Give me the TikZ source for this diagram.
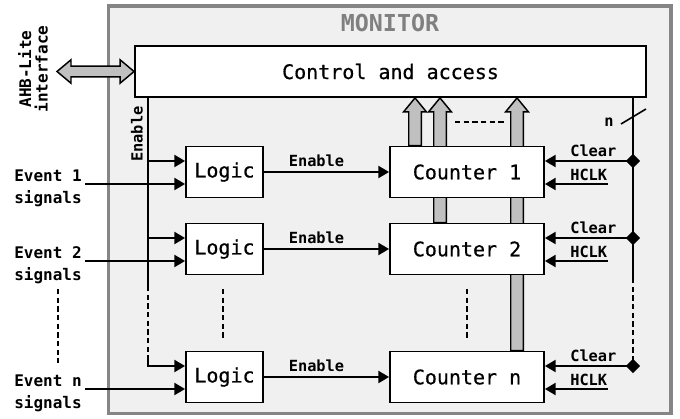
\documentclass[tikz,border=0pt]{standalone}
\usepackage{fontspec}
\newfontfamily\monof{DejaVu Sans Mono}
\newfontfamily\monoheavy[FakeBold=0.6]{DejaVu Sans Mono}
\usetikzlibrary{arrows.meta,shapes.geometric,calc}
\pgfdeclarelayer{back}
\pgfdeclarelayer{mid}
\pgfsetlayers{back,mid,main}
\definecolor{framegray}{HTML}{858585}
\definecolor{panelgray}{HTML}{F0F0F0}
\definecolor{arrowgray}{HTML}{C0C0C0}
\definecolor{titlegray}{HTML}{808080}
\begin{document}
\begin{tikzpicture}[x=0.75pt,y=-0.75pt,
  box/.style={draw, line width=1.4pt, fill=white, inner sep=0pt, font=\monoheavy\fontsize{15}{18}\selectfont},
  logicbox/.style={box, minimum width=57.75pt, minimum height=38.25pt},
  counterbox/.style={box, minimum width=115.5pt, minimum height=38.25pt},
  lbl/.style={inner sep=0pt, font=\monof\bfseries\fontsize{11.5}{16.5}\selectfont},
  evlbl/.style={inner sep=0pt, align=left, font=\monof\bfseries\fontsize{12}{16.5}\selectfont},
  wire/.style={line width=1.5pt},
  arr/.style={wire, -{Triangle[length=8pt,width=9pt]}},
  dashwire/.style={line width=1.5pt, dash pattern=on 4pt off 2.5pt},
  junction/.style={diamond, fill=black, inner sep=0pt, minimum size=11pt},
  bigarrow/.style={draw=black, line width=1.1pt, fill=arrowgray, line join=miter}
]
\useasboundingbox (0,0) rectangle (680,418);

\begin{pgfonlayer}{back}
\node[draw=framegray, fill=panelgray, line width=2.6pt, minimum width=421.9pt, minimum height=305.6pt, inner sep=0pt] (monitor) at (389.75,209.75) {};
\end{pgfonlayer}

\node[font=\monof\bfseries\fontsize{17.5}{20}\selectfont, text=titlegray, inner sep=0pt] (title) at (390,23) {MONITOR};

\node[box, minimum width=383.25pt, minimum height=38.25pt] (ctrl) at (390.5,71.5) {Control and access};

\foreach \k/\y in {1/172,2/249,n/377}{
  \node[logicbox] (l\k) at (224.5,\y) {Logic};
  \node[counterbox] (c\k) at (467,\y) {Counter \k};
  \node[evlbl, anchor=west] (e\k) at (14,\y+16) {Event \k\\signals};
  \coordinate (es\k) at (85,\y+12);
  \draw[arr] (es\k) -- (es\k -| l\k.west);
  \draw[arr] (l\k) -- node[lbl, pos=0.42, above=3pt]{Enable} (c\k);
  \node[junction] (d\k) at (633,\y-11) {};
  \draw[arr] (d\k.center) -- (d\k -| c\k.east);
  \node[lbl, anchor=base west] (cl\k) at (570,\y-16) {Clear};
  \coordinate (hs\k) at (608,\y+12);
  \draw[arr] (hs\k) -- (hs\k -| c\k.east);
  \node[lbl, anchor=base west] (hc\k) at (570,\y+8) {HCLK};
}

% vertical data arrows to control
\begin{pgfonlayer}{mid}
\foreach \c/\dx in {c1/-52,c2/-27,cn/50}{
  \filldraw[bigarrow] let \p1=($(\c.north)+(\dx,0)$), \p2=(ctrl.south) in
    (\x1-4.7pt,\y1) -- (\x1-4.7pt,\y2-10.5pt) -- (\x1-8.6pt,\y2-10.5pt) -- (\x1,\y2)
    -- (\x1+8.6pt,\y2-10.5pt) -- (\x1+4.7pt,\y2-10.5pt) -- (\x1+4.7pt,\y1) -- cycle;
}
\end{pgfonlayer}

% AHB-Lite double arrow
\coordinate (ahbtip) at (57,71.5);
\filldraw[bigarrow] let \p1=(ahbtip), \p2=(ctrl.west) in
  (\x1,\y1) -- (\x1+10.5pt,\y1+8.8pt) -- (\x1+10.5pt,\y1+4pt) -- (\x2-10.5pt,\y1+4pt)
  -- (\x2-10.5pt,\y1+8.8pt) -- (\x2,\y1) -- (\x2-10.5pt,\y1-8.8pt) -- (\x2-10.5pt,\y1-4pt)
  -- (\x1+10.5pt,\y1-4pt) -- (\x1+10.5pt,\y1-8.8pt) -- cycle;
\node[evlbl, align=center, rotate=90, font=\monof\bfseries\fontsize{12}{12.5}\selectfont] (ahb) at (33,69) {AHB-Lite\\interface};

% left enable bus
\coordinate (b1) at (148,161);
\coordinate (b2) at (148,238);
\coordinate (b3) at (148,286);
\coordinate (b4) at (148,360);
\coordinate (bn) at (148,366);
\draw[wire] (ctrl.south -| b1) -- (b3);
\draw[dashwire] (b3) -- (b4);
\draw[arr] (b4) -- (bn) -- (bn -| ln.west);
\draw[arr] (b1) -- (b1 -| l1.west);
\draw[arr] (b2) -- (b2 -| l2.west);
\node[lbl, rotate=90] (enlbl) at (137,134) {Enable};

% right clear bus
\coordinate (r3) at (633,278);
\coordinate (r4) at (633,357);
\draw[wire] (ctrl.south -| d1) -- (r3);
\draw[dashwire] (r3) -- (r4);
\draw[wire] (r4) -- (dn.center);
\draw[line width=1.2pt] (621,124) -- (646,109);
\node[lbl] (nlbl) at (609,122) {n};

% ellipsis dashes
\draw[dashwire] (58,289) -- (58,363);
\draw[dashwire] (223,289) -- (223,338);
\draw[dashwire] (467,289) -- (467,338);
\draw[dashwire] (455,122) -- (505,122);
\end{tikzpicture}
\end{document}
